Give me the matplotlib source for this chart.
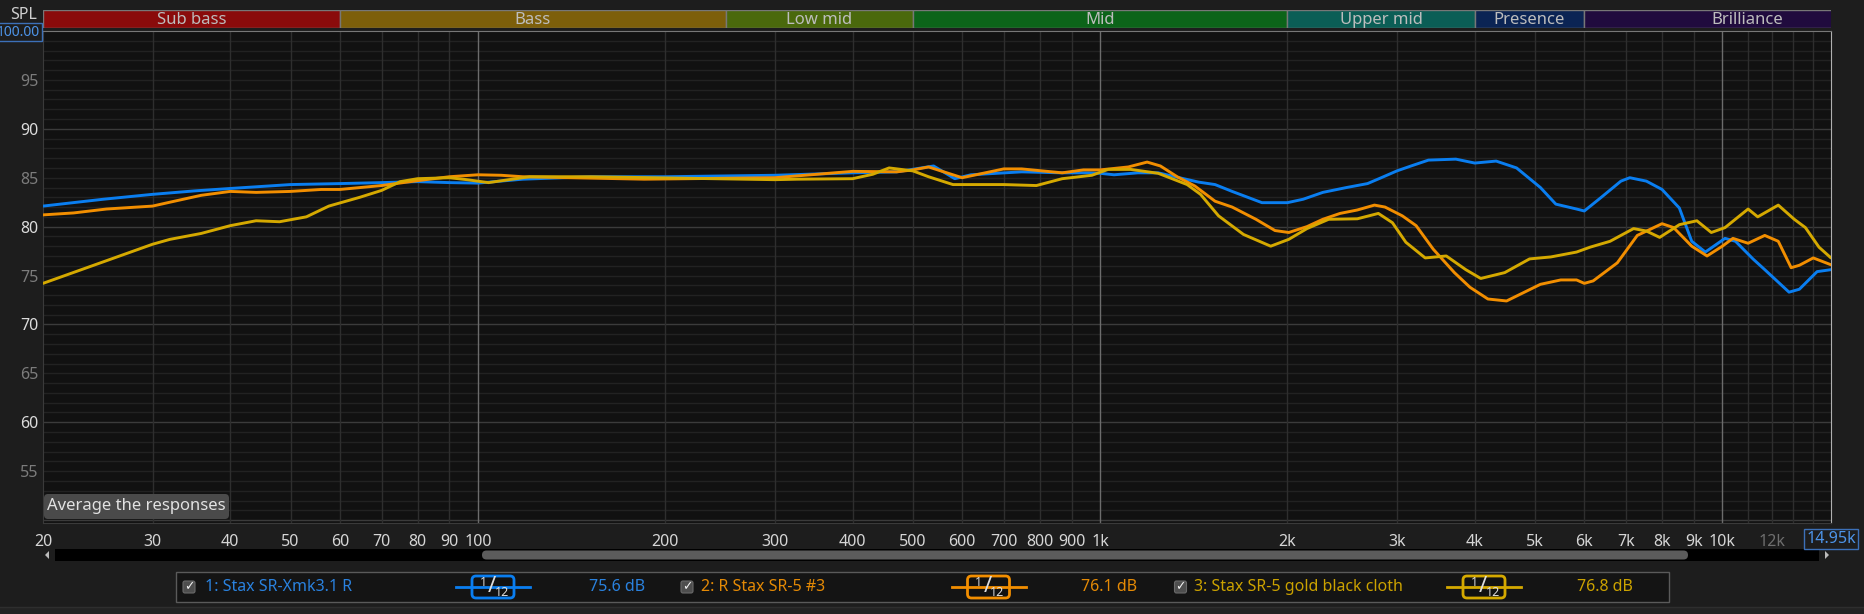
import matplotlib.pyplot as plt
from matplotlib.patches import FancyBboxPatch, Rectangle, Polygon
from matplotlib.ticker import NullLocator, NullFormatter

plt.rcParams['font.family'] = ['Noto Sans', 'DejaVu Sans']

W, H = 1864, 614

# --- data ---
freq_1 = [20, 25, 30, 35, 40, 50, 60, 70, 80, 90, 100, 118, 152, 200, 300, 400, 471, 540, 584,
          620, 748, 869, 958, 1000, 1053, 1150, 1240, 1320, 1440, 1530, 1630, 1820, 2000, 2120,
          2280, 2490, 2690, 2830, 3000, 3160, 3370, 3730, 4000, 4330, 4670, 5100, 5400, 5830,
          6000, 6390, 6870, 7100, 7550, 8000, 8530, 8930, 9390, 10100, 10500, 11200, 11700,
          12800, 13300, 14200, 14950]
spl_1 = [82.1, 82.8, 83.3, 83.65, 83.9, 84.3, 84.4, 84.5, 84.6, 84.5, 84.45, 84.85, 85.1, 85.1,
         85.25, 85.5, 85.6, 86.2, 84.9, 85.3, 85.6, 85.5, 85.5, 85.45, 85.3, 85.5, 85.5, 85.1,
         84.55, 84.3, 83.6, 82.45, 82.45, 82.8, 83.5, 84.0, 84.4, 85.0, 85.7, 86.2, 86.8, 86.9,
         86.5, 86.7, 86.0, 84.0, 82.3, 81.8, 81.6, 83.0, 84.65, 85.0, 84.65, 83.8, 81.9, 78.5,
         77.4, 78.8, 78.5, 76.7, 75.6, 73.3, 73.6, 75.4, 75.6]

freq_2 = [20, 22.4, 25.3, 30, 32, 35.9, 40, 44, 50, 56, 60, 70, 80, 90, 100, 109, 118, 185, 300,
          400, 471, 500, 530, 600, 700, 748, 869, 940, 1000, 1110, 1190, 1250, 1330, 1420, 1530,
          1630, 1780, 1910, 2010, 2150, 2280, 2430, 2590, 2760, 2870, 3060, 3220, 3430, 3710,
          3930, 4200, 4500, 5100, 5500, 5830, 6000, 6200, 6780, 7300, 8000, 8350, 8930, 9450,
          10000, 10400, 11000, 11700, 12300, 12900, 13300, 14000, 14950]
spl_2 = [81.2, 81.4, 81.8, 82.1, 82.5, 83.2, 83.6, 83.5, 83.6, 83.8, 83.8, 84.2, 84.7, 85.1, 85.3,
         85.25, 85.1, 84.85, 85.0, 85.65, 85.6, 85.8, 86.1, 85.0, 85.9, 85.9, 85.5, 85.8, 85.8,
         86.1, 86.6, 86.2, 85.1, 84.15, 82.6, 82.0, 80.75, 79.6, 79.4, 80.0, 80.75, 81.35, 81.7,
         82.2, 82.0, 81.1, 80.1, 77.7, 75.3, 73.8, 72.6, 72.4, 74.1, 74.55, 74.55, 74.2, 74.45,
         76.3, 79.1, 80.3, 79.9, 78.0, 77.0, 78.0, 78.8, 78.3, 79.1, 78.5, 75.8, 76.05, 76.8, 76.1]

freq_3 = [20, 30, 32, 35.9, 40, 44, 48, 53, 57.6, 64.6, 70, 75, 80, 90, 96, 104, 121, 152, 300,
          326, 400, 431, 458, 500, 530, 580, 700, 790, 869, 970, 1030, 1120, 1240, 1380, 1450,
          1550, 1700, 1880, 2010, 2150, 2330, 2590, 2800, 2950, 3100, 3330, 3600, 3870, 4090,
          4470, 4900, 5300, 5830, 6130, 6600, 7200, 7550, 7930, 8530, 9100, 9600, 10100, 11000,
          11400, 12300, 13050, 13600, 14300, 14950]
spl_3 = [74.2, 78.2, 78.7, 79.3, 80.1, 80.6, 80.5, 81.0, 82.1, 83.0, 83.7, 84.6, 84.9, 85.0, 84.8,
         84.5, 85.1, 85.1, 84.8, 84.85, 84.9, 85.35, 86.0, 85.7, 85.1, 84.3, 84.3, 84.2, 84.9,
         85.25, 85.85, 85.85, 85.45, 84.3, 83.3, 81.1, 79.2, 78.0, 78.7, 79.8, 80.75, 80.8,
         81.35, 80.4, 78.4, 76.8, 77.0, 75.6, 74.7, 75.3, 76.7, 76.9, 77.4, 77.9, 78.5, 79.8,
         79.55, 78.9, 80.2, 80.6, 79.4, 79.9, 81.8, 81.0, 82.2, 80.75, 79.9, 77.9, 76.8]

names = ["1: Stax SR-Xmk3.1 R", "2: R Stax SR-5 #3", "3: Stax SR-5 gold black cloth"]
readouts = ["75.6 dB", "76.1 dB", "76.8 dB"]
line_colors = ["#0a7ef0", "#f28e00", "#d5a900"]
text_colors = ["#2a82df", "#e58a05", "#cba200"]

band_names = ["Sub bass", "Bass", "Low mid", "Mid", "Upper mid", "Presence", "Brilliance"]
band_edges = [20, 60, 250, 500, 2000, 4000, 6000, 20000]
band_colors = ["#8a0b0b", "#7d5f0a", "#4a690c", "#0c6419", "#0b5e56", "#0b2454", "#200b3e"]

x_ticks = [20, 30, 40, 50, 60, 70, 80, 90, 100, 200, 300, 400, 500, 600, 700, 800, 900,
           1000, 2000, 3000, 4000, 5000, 6000, 7000, 8000, 9000, 10000, 12000]
x_labels = ["20", "30", "40", "50", "60", "70", "80", "90", "100", "200", "300", "400", "500",
            "600", "700", "800", "900", "1k", "2k", "3k", "4k", "5k", "6k", "7k", "8k", "9k",
            "10k", "12k"]
x_grid_minor = [30, 40, 50, 60, 70, 80, 90, 200, 300, 400, 500, 600, 700, 800, 900,
                2000, 3000, 4000, 5000, 6000, 7000, 8000, 9000, 11000, 12000, 13000, 14000]
x_grid_major = [100, 1000, 10000]
y_ticks = [55, 60, 65, 70, 75, 80, 85, 90, 95]
f_min, f_max = 20, 14950
y_min, y_max = 49.7, 100

fig = plt.figure(figsize=(W / 100, H / 100), dpi=100, facecolor="#1d1d1d")

# plot area: x 43..1831 px, y 31..523 px
ax = fig.add_axes([43 / W, 1 - 523 / H, (1831 - 43) / W, (523 - 31) / H])
ax.set_facecolor("#111111")
ax.set_xscale("log")
ax.set_xlim(f_min, f_max)
ax.set_ylim(y_min, y_max)

for v in range(50, 100):
    c = "#3b3b3b" if v % 10 == 0 else "#222222"
    ax.axhline(v, color=c, lw=1, zorder=0)
for f in x_grid_minor:
    ax.axvline(f, color="#2e2e2e", lw=1, zorder=0)
for f in x_grid_major:
    ax.axvline(f, color="#6c6c6c", lw=1, zorder=0)

for fr, sp, c in zip([freq_1, freq_2, freq_3], [spl_1, spl_2, spl_3], line_colors):
    ax.plot(fr, sp, color=c, lw=2.1, solid_capstyle="round", solid_joinstyle="round", zorder=3)

ax.set_xticks(x_ticks, x_labels)
ax.xaxis.set_minor_locator(NullLocator())
ax.xaxis.set_minor_formatter(NullFormatter())
ax.tick_params(axis="x", length=0, pad=8, labelcolor="#d6d6d6", labelsize=11.5)
ax.get_xticklabels()[-1].set_color("#6e6e6e")
ax.set_yticks(y_ticks)
ax.tick_params(axis="y", length=0, pad=3, labelsize=11.5)
for t, v in zip(ax.get_yticklabels(), y_ticks):
    t.set_color("#dcdcdc" if v % 10 == 0 else "#7c7c7c")

for side, c in [("left", "#3a3a3a"), ("bottom", "#3a3a3a"), ("top", "#777777"), ("right", "#b0b0b0")]:
    ax.spines[side].set_color(c)

# frequency band strip
bax = fig.add_axes([43 / W, 1 - 27.5 / H, (1831 - 43) / W, 18 / H])
bax.set_xscale("log")
bax.set_xlim(f_min, f_max)
bax.set_ylim(0, 1)
bax.axis("off")
for lo, hi, name, c in zip(band_edges[:-1], band_edges[1:], band_names, band_colors):
    bax.axvspan(lo, hi, color=c, ec="#777777", lw=1)
    bax.text((lo * hi) ** 0.5, 0.4, name, ha="center", va="center", color="#bdbdbd", size=12)

# overlay in pixel coordinates for the UI chrome
ov = fig.add_axes([0, 0, 1, 1])
ov.set_xlim(0, W)
ov.set_ylim(H, 0)
ov.axis("off")

ov.text(37, 15, "SPL", ha="right", va="center", color="#cfcfcf", size=11.5)
ov.text(40, 32, "100.00", ha="right", va="center", color="#4d94e8", size=10,
        bbox=dict(boxstyle="square,pad=0.12", fc="#1d1d1d", ec="#3c70b8", lw=1))
ov.text(1831, 539, "14.95k", ha="center", va="center", color="#4d94e8", size=11.5,
        bbox=dict(boxstyle="square,pad=0.12", fc="#1d1d1d", ec="#3c70b8", lw=1))

ov.add_patch(FancyBboxPatch((44, 494), 185, 25, boxstyle="round,pad=0,rounding_size=4",
                            fc="#4a4a4a", ec="none"))
ov.text(136.5, 506.5, "Average the responses", ha="center", va="center", color="#e2e2e2", size=12)

# scrollbar
ov.add_patch(Rectangle((55, 549), 1764, 12, fc="#000000", ec="none"))
ov.add_patch(FancyBboxPatch((482, 550.5), 1206, 9, boxstyle="round,pad=0,rounding_size=4.5",
                            fc="#5c5c5c", ec="none"))
ov.add_patch(Polygon([(45, 555), (49, 551), (49, 559)], fc="#bbbbbb", ec="none"))
ov.add_patch(Polygon([(1829, 555), (1825, 551), (1825, 559)], fc="#bbbbbb", ec="none"))

# legend
ov.add_patch(Rectangle((176, 572), 1493, 30, fc="#141414", ec="#5a5a5a", lw=1))
check_x = [189, 687, 1180.5]
name_x = [205, 701, 1193.6]
icon_x = [493, 988.5, 1484]
value_x = [589, 1081, 1577]
yc = 587
for i in range(3):
    cx = check_x[i]
    ov.add_patch(FancyBboxPatch((cx - 6, yc - 6), 12, 12, boxstyle="round,pad=0,rounding_size=2",
                                fc="#4e4e4e", ec="#6a6a6a", lw=0.8))
    ov.text(cx, yc, "\u2713", ha="center", va="center", color="#f0f0f0", size=9,
            family="DejaVu Sans")
    ov.text(name_x[i], yc, names[i], ha="left", va="center", color=text_colors[i], size=11.5)
    ix = icon_x[i]
    ov.plot([ix - 37, ix + 37], [yc, yc], color=line_colors[i], lw=2)
    ov.add_patch(FancyBboxPatch((ix - 21, yc - 11), 42, 22, boxstyle="round,pad=0,rounding_size=4",
                                fc="#111111", ec=line_colors[i], lw=2))
    ov.text(ix - 10, yc - 4, "1", ha="center", va="center", color="#dddddd", size=9)
    ov.text(ix - 1, yc, "/", ha="center", va="center", color="#dddddd", size=16)
    ov.text(ix + 9, yc + 5, "12", ha="center", va="center", color="#dddddd", size=9)
    ov.text(value_x[i], yc, readouts[i], ha="left", va="center", color=text_colors[i], size=11.5)

ov.add_patch(Rectangle((0, 607), W, 7, fc="#232323", ec="none"))
ov.plot([0, W], [607, 607], color="#2e2e2e", lw=1)

fig.savefig("out.png", dpi=100, facecolor=fig.get_facecolor())
